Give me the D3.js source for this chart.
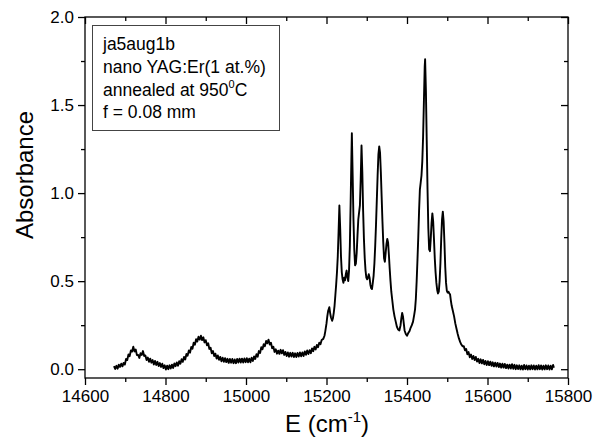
<!DOCTYPE html>
<html>
<head>
<meta charset="utf-8">
<script src="https://cdn.jsdelivr.net/npm/d3@7"></script>
<style>
  html, body { margin: 0; padding: 0; background: #fff; }
  svg { display: block; font-family: "Liberation Sans", Arial, sans-serif; }
</style>
</head>
<body>
<svg id="chart" width="594" height="439"></svg>
<script>
// Absorption spectrum of nano YAG:Er

// baseline part (noisy, left of the main band) [E cm-1, absorbance]
const baselineLeft = [
  [14672,.018],[14675,.001],[14678,.019],[14681,.003],[14684,.026],[14687,.013],[14690,.031],[14693,.016],
  [14696,.036],[14699,.026],[14702,.058],[14705,.052],[14708,.084],[14711,.074],[14714,.106],[14717,.100],
  [14720,.128],[14723,.101],[14726,.112],[14729,.080],[14732,.081],[14735,.064],[14738,.091],[14741,.081],
  [14744,.103],[14747,.075],[14750,.078],[14753,.052],[14756,.066],[14759,.042],[14762,.060],[14765,.037],
  [14768,.052],[14771,.027],[14774,.047],[14777,.024],[14780,.042],[14783,.018],[14786,.035],[14789,.013],
  [14792,.031],[14795,.006],[14798,.022],[14801,-.002],[14804,.020],[14807,.000],[14810,.022],[14813,.004],
  [14816,.026],[14819,.007],[14822,.033],[14825,.017],[14828,.038],[14831,.020],[14834,.045],[14837,.031],
  [14840,.057],[14843,.042],[14846,.070],[14849,.055],[14852,.086],[14855,.077],[14858,.106],[14861,.094],
  [14864,.126],[14867,.116],[14870,.150],[14873,.139],[14876,.170],[14879,.157],[14882,.184],[14885,.168],
  [14888,.190],[14891,.165],[14894,.181],[14897,.152],[14900,.165],[14903,.136],[14906,.147],[14909,.115],
  [14912,.122],[14915,.090],[14918,.103],[14921,.075],[14924,.088],[14927,.060],[14930,.078],[14933,.053],
  [14936,.070],[14939,.045],[14942,.065],[14945,.042],[14948,.063],[14951,.040],[14954,.059],[14957,.036],
  [14960,.058],[14963,.037],[14966,.058],[14969,.034],[14972,.055],[14975,.034],[14978,.058],[14981,.038],
  [14984,.060],[14987,.038],[14990,.060],[14993,.038],[14996,.061],[14999,.040],[15002,.062],[15005,.039],
  [15008,.060],[15011,.039],[15014,.065],[15017,.047],[15020,.072],[15023,.058],[15026,.085],[15029,.071],
  [15032,.103],[15035,.092],[15038,.125],[15041,.113],[15044,.142],[15047,.131],[15050,.160],[15053,.147],
  [15056,.168],[15059,.140],[15062,.150],[15065,.119],[15068,.128],[15071,.098],[15074,.113],[15077,.088],
  [15080,.105],[15083,.087],[15086,.110],[15089,.090],[15092,.108],[15095,.081],[15098,.098],[15101,.075],
  [15104,.095],[15107,.071],[15110,.093],[15113,.072],[15116,.093],[15119,.069],[15122,.090],[15125,.069],
  [15128,.092],[15131,.072],[15134,.095],[15137,.073],[15140,.095],[15143,.075],[15146,.101],[15149,.082],
  [15152,.106],[15155,.086],[15158,.108],[15161,.091],[15164,.118],[15167,.102],[15170,.127],[15173,.112],
  [15176,.138],[15179,.125],[15182,.150],[15185,.142],[15188,.166]
];

// the Er3+ band with its sharp lines
const mainBand = [
  [15192,.172],[15195,.19],[15197,.215],[15200,.26],[15202,.30],[15204,.33],[15207,.352],[15209,.32],
  [15211,.295],[15214,.275],[15216,.29],[15218,.32],[15220,.36],[15222,.42],[15224,.48],[15226,.55],
  [15228,.64],[15230,.78],[15232,.93],[15234,.80],[15236,.64],[15238,.55],[15240,.51],[15242,.49],
  [15244,.52],[15246,.505],[15248,.54],[15250,.56],[15252,.52],[15254,.50],[15256,.56],[15258,.70],
  [15260,.95],[15262,1.22],[15263,1.34],[15265,1.10],[15267,.85],[15269,.68],[15271,.59],[15273,.60],
  [15275,.66],[15277,.76],[15279,.85],[15281,.89],[15283,.93],[15285,1.08],[15287,1.27],[15289,1.12],
  [15291,.90],[15293,.74],[15295,.63],[15297,.56],[15299,.52],[15301,.51],[15303,.52],[15305,.54],
  [15307,.52],[15309,.48],[15311,.46],[15313,.455],[15315,.49],[15317,.53],[15319,.60],[15321,.70],
  [15323,.82],[15325,.96],[15327,1.10],[15329,1.22],[15331,1.265],[15333,1.23],[15335,1.12],[15337,.98],
  [15339,.84],[15341,.72],[15343,.63],[15345,.61],[15347,.66],[15349,.71],[15351,.74],[15353,.72],
  [15355,.65],[15357,.57],[15359,.50],[15361,.44],[15363,.40],[15366,.34],[15369,.30],[15372,.27],
  [15375,.24],[15378,.225],[15381,.22],[15384,.25],[15386,.29],[15388,.32],[15390,.30],[15392,.26],
  [15394,.22],[15397,.20],[15400,.19],[15403,.205],[15406,.215],[15409,.235],[15412,.25],[15415,.27],
  [15418,.31],[15420,.34],[15422,.40],[15424,.50],[15426,.62],[15428,.75],[15430,.90],[15432,1.02],
  [15434,1.06],[15436,1.10],[15438,1.18],[15440,1.32],[15442,1.52],[15444,1.72],[15445,1.76],[15447,1.58],
  [15449,1.30],[15451,1.02],[15453,.80],[15455,.68],[15457,.67],[15459,.74],[15461,.83],[15463,.885],
  [15465,.84],[15467,.74],[15469,.63],[15471,.55],[15473,.49],[15475,.45],[15477,.43],[15479,.44],
  [15481,.50],[15483,.60],[15485,.74],[15487,.85],[15489,.895],[15491,.84],[15493,.72],[15495,.58],
  [15497,.49],[15499,.445],[15501,.435],[15503,.44],[15505,.43],[15507,.425],[15509,.39],[15511,.36],
  [15514,.33],[15517,.30],[15520,.26],[15523,.23],[15526,.20],[15529,.175],[15532,.155],[15535,.14],
  [15538,.13]
];

// tail on the high energy side
const baselineRight = [
  [15541,.131],[15544,.107],[15547,.115],[15550,.085],[15553,.097],[15556,.068],[15559,.083],[15562,.058],
  [15565,.075],[15568,.052],[15571,.070],[15574,.043],[15577,.059],[15580,.035],[15583,.056],[15586,.033],
  [15589,.053],[15592,.028],[15595,.047],[15598,.024],[15601,.045],[15604,.023],[15607,.043],[15610,.019],
  [15613,.039],[15616,.016],[15619,.037],[15622,.015],[15625,.036],[15628,.012],[15631,.032],[15634,.009],
  [15637,.031],[15640,.009],[15643,.030],[15646,.006],[15649,.026],[15652,.004],[15655,.026],[15658,.004],
  [15661,.028],[15664,.002],[15667,.025],[15670,.000],[15673,.022],[15676,.001],[15679,.022],[15682,-.001],
  [15685,.020],[15688,-.002],[15691,.024],[15694,.000],[15697,.021],[15700,-.002],[15703,.020],[15706,-.001],
  [15709,.022],[15712,.000],[15715,.021],[15718,-.002],[15721,.020],[15724,-.001],[15727,.023],[15730,.000],
  [15733,.021],[15736,-.002],[15739,.020],[15742,-.001],[15745,.022],[15748,.000],[15751,.021],[15754,-.002],
  [15757,.020],[15760,-.001],[15763,.024],[15765,.008]
];

const xMajorTicks = [14600, 14800, 15000, 15200, 15400, 15600, 15800];
const xMinorTicks = [14700, 14900, 15100, 15300, 15500, 15700];
const yMajorTicks = [0, 0.5, 1.0, 1.5, 2.0];
const yMinorTicks = [0.25, 0.75, 1.25, 1.75];
const legendLines = ['ja5aug1b', 'nano YAG:Er(1 at.%)', 'annealed at 950', 'f = 0.08 mm'];

const svg = d3.select('#chart');
const plot = { left: 85, right: 568, top: 17, bottom: 378 };

const x = d3.scaleLinear().domain([14600, 15800]).range([plot.left, plot.right]);
const y = d3.scaleLinear().domain([-0.05, 2.0]).range([plot.bottom, plot.top]);

// frame
svg.append('rect')
  .attr('x', plot.left).attr('y', plot.top)
  .attr('width', plot.right - plot.left).attr('height', plot.bottom - plot.top)
  .attr('fill', 'none').attr('stroke', '#000').attr('stroke-width', 1.3);

function styleAxis(g) {
  g.select('.domain').remove();
  g.selectAll('line').attr('stroke', '#000').attr('stroke-width', 1.3);
  g.selectAll('text').attr('fill', '#000').style('font-size', '17px');
}

// bottom axis with labels
svg.append('g')
  .attr('transform', `translate(0,${plot.bottom})`)
  .call(d3.axisBottom(x).tickValues(xMajorTicks).tickSize(7).tickPadding(5).tickFormat(d3.format('d')))
  .call(styleAxis);
svg.append('g')
  .attr('transform', `translate(0,${plot.bottom})`)
  .call(d3.axisBottom(x).tickValues(xMinorTicks).tickSize(4).tickFormat(''))
  .call(styleAxis);

// left axis with labels
svg.append('g')
  .attr('transform', `translate(${plot.left},0)`)
  .call(d3.axisLeft(y).tickValues(yMajorTicks).tickSize(7).tickPadding(4).tickFormat(d3.format('.1f')))
  .call(styleAxis);
svg.append('g')
  .attr('transform', `translate(${plot.left},0)`)
  .call(d3.axisLeft(y).tickValues(yMinorTicks).tickSize(4).tickFormat(''))
  .call(styleAxis);

// mirrored ticks on top and right (pointing into the plot)
svg.append('g')
  .attr('transform', `translate(0,${plot.top})`)
  .call(d3.axisBottom(x).tickValues(xMajorTicks).tickSize(7).tickFormat(''))
  .call(styleAxis);
svg.append('g')
  .attr('transform', `translate(0,${plot.top})`)
  .call(d3.axisBottom(x).tickValues(xMinorTicks).tickSize(4).tickFormat(''))
  .call(styleAxis);
svg.append('g')
  .attr('transform', `translate(${plot.right},0)`)
  .call(d3.axisLeft(y).tickValues(yMajorTicks).tickSize(7).tickFormat(''))
  .call(styleAxis);
svg.append('g')
  .attr('transform', `translate(${plot.right},0)`)
  .call(d3.axisLeft(y).tickValues(yMinorTicks).tickSize(4).tickFormat(''))
  .call(styleAxis);

// spectrum
const spectrum = baselineLeft.concat(mainBand, baselineRight);
const line = d3.line().x(d => x(d[0])).y(d => y(d[1]));
svg.append('path')
  .datum(spectrum)
  .attr('fill', 'none')
  .attr('stroke', '#000')
  .attr('stroke-width', 1.9)
  .attr('stroke-linejoin', 'round')
  .attr('d', line);

// axis titles
svg.append('text')
  .attr('transform', 'translate(33,175) rotate(-90)')
  .attr('text-anchor', 'middle')
  .style('font-size', '24px')
  .text('Absorbance');

const xTitle = svg.append('text')
  .attr('x', 327).attr('y', 432)
  .attr('text-anchor', 'middle')
  .style('font-size', '24px');
xTitle.append('tspan').text('E (cm');
xTitle.append('tspan').attr('dy', -10).style('font-size', '15px').text('-1');
xTitle.append('tspan').attr('dy', 10).text(')');

// legend box
svg.append('rect')
  .attr('x', 92.5).attr('y', 25.5).attr('width', 187).attr('height', 105)
  .attr('fill', '#fff').attr('stroke', '#444').attr('stroke-width', 1);

const legendY = [50, 73, 96, 118];
legendLines.forEach((t, i) => {
  const txt = svg.append('text')
    .attr('x', 103).attr('y', legendY[i])
    .style('font-size', '17.5px');
  txt.append('tspan').text(t);
  if (i === 2) {
    txt.append('tspan').attr('dy', -8).style('font-size', '11px').text('0');
    txt.append('tspan').attr('dy', 8).text('C');
  }
});
</script>
</body>
</html>
